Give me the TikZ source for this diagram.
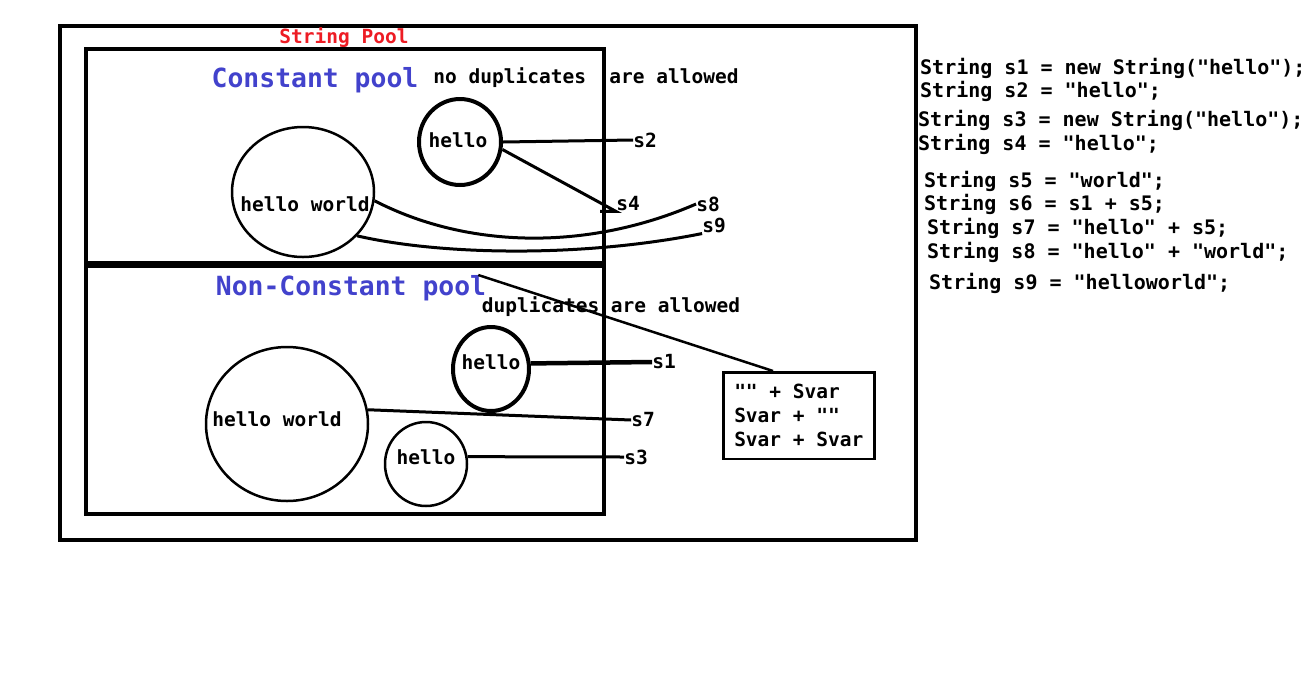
\documentclass[tikz,border=0pt]{standalone}
\usepackage{fontspec}
\setmonofont{DejaVu Sans Mono}
\usetikzlibrary{shapes.geometric}
\definecolor{poolblue}{RGB}{66,66,204}
\definecolor{poolred}{RGB}{237,28,36}

\begin{document}
\begin{tikzpicture}[x=1pt, y=-1pt,
  every node/.style={font=\ttfamily\bfseries\fontsize{19.5}{24}\selectfont, inner sep=0pt},
  blob/.style={draw, ellipse, line width=2.5pt},
  heading/.style={text=poolblue, font=\ttfamily\bfseries\fontsize{26.4}{30}\selectfont},
  wire/.style={line width=3pt}]
  \useasboundingbox (0,0) rectangle (1307,673);
  % frames
  \draw[line width=4pt] (60,26) rectangle (916,540);
  \draw[line width=4.5pt] (86,49) rectangle (604,514);
  \draw[line width=7pt] (86,264) -- (606,264);
  \node[text=poolred] (sp) at (344,38) {String Pool};

  % constant pool
  \node[heading] (cp) at (315,80) {Constant pool};
  \node (nd) at (586,78) {no duplicates\ \ are allowed};
  \node[blob, line width=4pt, minimum width=82, minimum height=86] (hc) at (460,142) {};
  \node (hct) at (458,140) {hello};
  \node[blob, minimum width=142, minimum height=130] (cw) at (303,192) {};
  \node (cwt) at (305,204) {hello world};
  \foreach \n/\x/\y in {s2/645/140, s4/628/204, s8/708/204, s9/714/226}
    \node (\n) at (\x,\y) {\n};
  \draw[wire] (hc.east) -- (s2.west);
  \draw[wire] (hc.-10) -- (s4.south west) -- ++(-16,0);
  \draw[wire] (cw.-7) .. controls (470,250) and (590,250) .. (s8.west);
  \draw[wire] (cw.-39) .. controls (440,255) and (580,258) .. (s9.south west);

  % non-constant pool
  \node[heading] (ncp) at (351,288) {Non-Constant pool};
  \node (da) at (611,307) {duplicates are allowed};
  \node[blob, line width=4pt, minimum width=76, minimum height=84] (h1) at (491,369) {};
  \node (h1t) at (491,362) {hello};
  \node[blob, minimum width=162, minimum height=154] (nw) at (287,424) {};
  \node (nwt) at (277,419) {hello world};
  \node[blob, minimum width=82, minimum height=84] (h3) at (426,464) {};
  \node (h3t) at (426,457) {hello};
  \foreach \n/\x/\y in {s1/664/362, s7/643/420, s3/636/457}
    \node (\n) at (\x,\y) {\n};
  \draw[line width=4.5pt] (h1.8) -- (s1.west);
  \draw[wire] (nw.10) -- (s7.west);
  \draw[wire] (h3.10) -- (s3.west);

  \node[draw, line width=2.5pt, align=left, anchor=north west, inner xsep=11pt, inner ysep=12pt] (sv)
    at (722,371) {"" + Svar\\Svar + ""\\Svar + Svar};
  \draw[line width=2.5pt] ([xshift=-8pt]ncp.north east) -- (sv.120);

  % code
  \foreach \x/\y/\txt [count=\i] in {920/68/{String s1 = new String("hello");}, 920/91/{String s2 = "hello";},
    918/120/{String s3 = new String("hello");}, 918/144/{String s4 = "hello";},
    924/181/{String s5 = "world";}, 924/204/{String s6 = s1 + s5;},
    927/228/{String s7 = "hello" + s5;}, 927/252/{String s8 = "hello" + "world";},
    929/283/{String s9 = "helloworld";}}
    \node[anchor=west, font=\ttfamily\bfseries\fontsize{20}{24}\selectfont] (c\i) at (\x,\y) {\txt};
\end{tikzpicture}
\end{document}
